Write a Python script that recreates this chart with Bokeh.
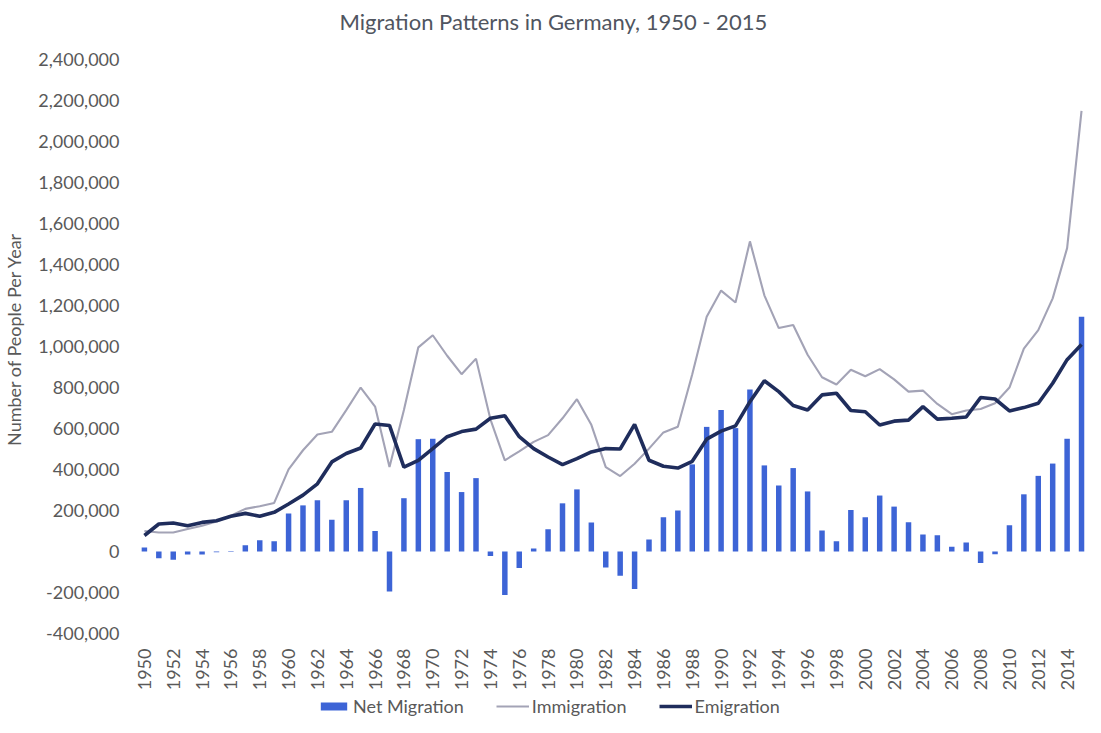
import math
from bokeh.plotting import figure
from bokeh.layouts import column
from bokeh.models import FixedTicker, NumeralTickFormatter, Legend, LegendItem, Range1d
from bokeh.embed import file_html
from bokeh.resources import INLINE

years = list(range(1950, 2016))

net_migration = [
    20, -33, -40, -15, -15, -4, -3, 30, 55, 50,
    185, 225, 250, 155, 250, 310, 100, -195, 260, 548,
    550, 388, 290, 358, -22, -212, -80, 15, 108, 235,
    303, 142, -78, -118, -183, 58, 167, 200, 425, 608,
    690, 602, 790, 420, 322, 407, 293, 102, 50, 202,
    167, 273, 219, 143, 83, 79, 23, 44, -56, -13,
    128, 279, 369, 429, 550, 1145,
]
immigration = [
    100, 93, 93, 110, 126, 146, 175, 208, 221, 237,
    401, 494, 571, 584, 690, 800, 707, 412, 690, 996,
    1055, 955, 865, 941, 645, 445, 488, 535, 568, 650,
    743, 618, 412, 368, 428, 502, 581, 609, 865, 1145,
    1273, 1215, 1513, 1250, 1090, 1105, 960, 850, 815, 887,
    855, 890, 840, 780, 785, 720, 670, 688, 695, 723,
    800, 990, 1080, 1235, 1480, 2150,
]
emigration = [
    78, 134, 139, 126, 142, 150, 172, 186, 172, 191,
    232, 275, 330, 437, 478, 505, 622, 615, 412, 445,
    502, 560, 585, 597, 650, 662, 560, 502, 461, 424,
    453, 486, 502, 500, 620, 445, 416, 407, 440, 548,
    587, 613, 731, 833, 780, 712, 690, 764, 772, 688,
    682, 617, 636, 641, 707, 646, 650, 656, 751, 744,
    686, 702, 723, 821, 936, 1010,
]
net_migration = [v * 1000 for v in net_migration]
immigration = [v * 1000 for v in immigration]
emigration = [v * 1000 for v in emigration]

y_ticks = list(range(-400000, 2400001, 200000))
x_ticks = list(range(1950, 2015, 2))
legend_labels = ["Net Migration", "Immigration", "Emigration"]

TITLE = "Migration Patterns in Germany,  1950 - 2015"
FONT = "Lato"
TEXT_COLOR = "#595959"
BAR_COLOR = "#3D64D6"
IMM_COLOR = "#A3A3B6"
EMI_COLOR = "#1F2D5C"

# layout (page pixels)
FRAME_TOP = 40
FRAME_BOTTOM = 636
PX = 571 / 2.8e6
y_end = 2.4e6 + (60 - FRAME_TOP) / PX
y_start = -4e5 - (FRAME_BOTTOM - 631) / PX
YEAR_PX = 14.52
x_start = 1950 - (145 - 132) / YEAR_PX
x_end = 2015 + (1093 - 1089) / YEAR_PX

p = figure(width=1085, height=693, output_backend="svg", toolbar_location=None,
           x_range=Range1d(x_start, x_end), y_range=Range1d(y_start, y_end),
           min_border_left=124, min_border_right=0, min_border_top=0, min_border_bottom=0)
p.title.text = TITLE
p.title.align = "left"
p.title.offset = 208
p.title.text_font = FONT
p.title.text_font_size = "22px"
p.title.text_font_style = "normal"
p.title.text_color = "#505560"

p.outline_line_color = None
p.grid.grid_line_color = None

p.vbar(x=years, top=net_migration, width=0.38, fill_color=BAR_COLOR, line_color=None)
p.line(years, immigration, line_color=IMM_COLOR, line_width=2.1)
p.line(years, emigration, line_color=EMI_COLOR, line_width=3.6)

for ax in (p.xaxis[0], p.yaxis[0]):
    ax.axis_line_color = None
    ax.major_tick_line_color = None
    ax.minor_tick_line_color = None
    ax.major_label_text_font = FONT
    ax.major_label_text_font_size = "18px"
    ax.major_label_text_color = TEXT_COLOR

p.yaxis.ticker = FixedTicker(ticks=y_ticks)
p.yaxis.formatter = NumeralTickFormatter(format="0,0")
p.yaxis.major_label_standoff = 6
p.yaxis.axis_label = "Number of People Per Year"
p.yaxis.axis_label_text_font = FONT
p.yaxis.axis_label_text_font_size = "18px"
p.yaxis.axis_label_text_font_style = "normal"
p.yaxis.axis_label_text_color = TEXT_COLOR
p.yaxis.axis_label_standoff = 10

p.xaxis.ticker = FixedTicker(ticks=x_ticks)
p.xaxis.major_label_orientation = math.pi / 2
p.xaxis.major_label_standoff = 4

# legend strip (no title, no axes, no borders)
lg = figure(width=1085, height=24, output_backend="svg", toolbar_location=None, title=None,
            x_axis_type=None, y_axis_type=None, x_range=Range1d(0, 1), y_range=Range1d(0, 1),
            min_border=0, min_border_top=0, min_border_bottom=0,
            min_border_left=0, min_border_right=0)
lg.outline_line_color = None
lg.grid.grid_line_color = None
r_bar = lg.vbar(x=[10], top=[10], width=0.38, fill_color=BAR_COLOR, line_color=None)
r_imm = lg.line([10, 11], [10, 10], line_color=IMM_COLOR, line_width=2.1)
r_emi = lg.line([10, 11], [10, 10], line_color=EMI_COLOR, line_width=3.6)

legend = Legend(items=[
    LegendItem(label=legend_labels[0], renderers=[r_bar]),
    LegendItem(label=legend_labels[1], renderers=[r_imm]),
    LegendItem(label=legend_labels[2], renderers=[r_emi]),
], orientation="horizontal", location=(186, 0))
legend.label_text_font = FONT
legend.label_text_font_size = "18px"
legend.label_text_color = TEXT_COLOR
legend.label_height = 18
legend.glyph_width = 33
legend.glyph_height = 10
legend.spacing = 32
legend.label_standoff = 3
legend.padding = 0
legend.margin = 0
legend.border_line_color = None
legend.background_fill_alpha = 0
lg.add_layout(legend, "center")

layout = column(p, lg, spacing=0)
open("out.html", "w").write(file_html(layout, INLINE))
